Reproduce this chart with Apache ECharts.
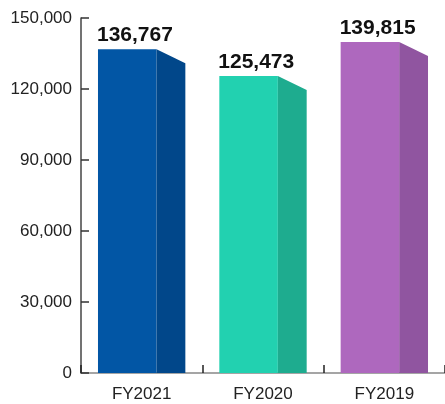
<!DOCTYPE html>
<html>
<head>
<meta charset="utf-8">
<script src="https://cdn.jsdelivr.net/npm/echarts@6/dist/echarts.min.js"></script>
<style>
html,body{margin:0;padding:0;background:#fff;}
#chart{width:445px;height:404px;}
</style>
</head>
<body>
<div id="chart"></div>
<script>
const categories = ['FY2021', 'FY2020', 'FY2019'];
const values = [136767, 125473, 139815];
const frontColors = ['#0256a5', '#22d1b0', '#ae68be'];
const sideColors = ['#01478a', '#1eac8f', '#9055a0'];
const yTicks = [0, 30000, 60000, 90000, 120000, 150000];

const FONT = '"Liberation Sans", Arial, sans-serif';
const chart = echarts.init(document.getElementById('chart'));

function renderItem(params, api) {
  const idx = api.value(0);
  const val = api.value(1);
  const topPt = api.coord([idx, val]);
  const basePt = api.coord([idx, 0]);
  const band = api.size([1, 0])[0];
  const total = band * 0.72;
  const front = total * 0.67;
  const left = topPt[0] - total / 2;
  const top = topPt[1];
  const bottom = basePt[1];
  const drop = 14;
  return {
    type: 'group',
    children: [
      {
        type: 'rect',
        shape: { x: left, y: top, width: front, height: bottom - top },
        style: { fill: frontColors[idx] }
      },
      {
        type: 'polygon',
        shape: { points: [[left + front, top], [left + total, top + drop], [left + total, bottom], [left + front, bottom]] },
        style: { fill: sideColors[idx] }
      },
      {
        type: 'text',
        x: left - 1,
        y: top - 14,
        style: {
          text: values[idx].toLocaleString('en-US'),
          font: 'bold 21px ' + FONT,
          fill: '#111',
          align: 'left',
          verticalAlign: 'middle'
        }
      }
    ]
  };
}

chart.setOption({
  animation: false,
  grid: { left: 81, right: -5, top: 18, bottom: 31, containLabel: false },
  xAxis: {
    type: 'category',
    data: categories,
    axisLine: { lineStyle: { color: '#888', width: 1.5 } },
    axisTick: { show: true, inside: true, length: 8, lineStyle: { color: '#222', width: 1.5 } },
    axisLabel: { color: '#222', fontSize: 17, fontFamily: FONT, margin: 13 }
  },
  yAxis: {
    type: 'value',
    min: yTicks[0],
    max: yTicks[yTicks.length - 1],
    interval: yTicks[1] - yTicks[0],
    axisLine: { show: true, lineStyle: { color: '#444', width: 1.5 } },
    axisTick: { show: true, inside: true, length: 8, lineStyle: { color: '#333', width: 1.5 } },
    splitLine: { show: false },
    axisLabel: {
      color: '#222', fontSize: 17, fontFamily: FONT, margin: 9,
      formatter: v => v.toLocaleString('en-US')
    }
  },
  series: [{
    type: 'custom',
    renderItem: renderItem,
    data: values.map((v, i) => [i, v]),
    clip: false
  }]
});
</script>
</body>
</html>
